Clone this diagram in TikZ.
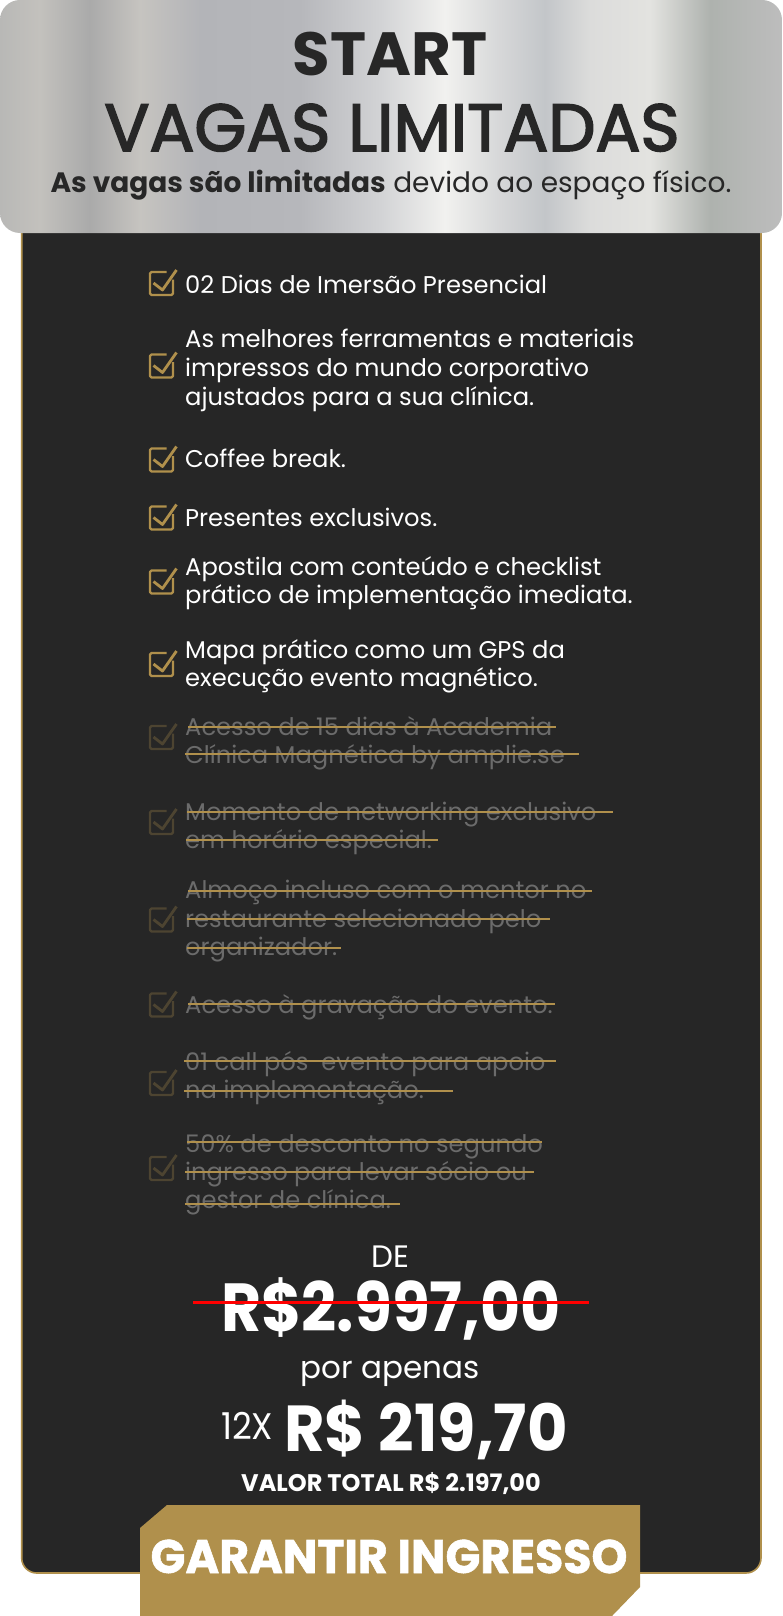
\documentclass[tikz,border=0pt]{standalone}
\usepackage{fontspec}
\usepackage{graphicx}
\setmainfont{Poppins}
\newfontfamily\popmed{Poppins}[FakeBold=2.5]
\definecolor{panel}{HTML}{262626}
\definecolor{gold}{HTML}{B0904C}
\definecolor{hdrtxt}{HTML}{272727}
\definecolor{offgray}{HTML}{6B6B6B}
\colorlet{dimgold}{gold!28!panel}
\definecolor{m0}{HTML}{B8B8B6}
\definecolor{m1}{HTML}{C3C1BD}
\definecolor{m2}{HTML}{AAAAAA}
\definecolor{m3}{HTML}{C6C4C0}
\definecolor{m4}{HTML}{B3B4B8}
\definecolor{m5}{HTML}{B6B7BB}
\definecolor{m6}{HTML}{D2D3D5}
\definecolor{m7}{HTML}{F1F1EF}
\definecolor{m8}{HTML}{D6D7D8}
\definecolor{m9}{HTML}{C3C6C9}
\definecolor{m10}{HTML}{DCDCDB}
\definecolor{m11}{HTML}{E3E3E0}
\definecolor{m12}{HTML}{AEB2AE}
\definecolor{m13}{HTML}{BDBDBD}
\pgfdeclarehorizontalshading{metal}{100bp}{color(0bp)=(m0); color(25bp)=(m0);
 color(27.56bp)=(m1); color(30.75bp)=(m2); color(33.95bp)=(m3); color(37.79bp)=(m4);
 color(44.18bp)=(m5); color(49.3bp)=(m6); color(53.45bp)=(m7); color(56.97bp)=(m8);
 color(59.85bp)=(m9); color(62.72bp)=(m10); color(66.56bp)=(m11); color(70.4bp)=(m12);
 color(75bp)=(m13); color(100bp)=(m13)}
\tikzset{
  item/.style={anchor=base west, inner sep=0pt, text=white, font=\fontsize{24.2}{29}\selectfont},
  offitem/.style={item, text=offgray},
  strike/.style={gold, line width=2pt},
  ckon/.pic={
    \draw[gold, line width=2.4pt, line join=round, rounded corners=1.5pt] (11.5,-4) -- (11.5,11.5) -- (-11.5,11.5) -- (-11.5,-11.5) -- (5,-11.5);
    \draw[gold, line width=2.8pt, line join=round] (-8,-0.5) -- (1,6.5) -- (15,-13.5);},
  ckoff/.pic={
    \draw[dimgold, line width=2.4pt, line join=round, rounded corners=1.5pt] (11.5,-4) -- (11.5,11.5) -- (-11.5,11.5) -- (-11.5,-11.5) -- (5,-11.5);
    \draw[dimgold, line width=2.8pt, line join=round] (-8,-0.5) -- (1,6.5) -- (15,-13.5);},
  hdr/.style={anchor=base, inner sep=0pt, text=hdrtxt},
  price/.style={anchor=base, inner sep=0pt, text=white}
}
\begin{document}
\begin{tikzpicture}[x=1pt,y=-1pt]
\useasboundingbox (0,0) rectangle (782,1616);
\fill[white] (0,0) rectangle (782,1616);
% panel
\draw[gold, line width=1.6pt, fill=panel, rounded corners=15pt] (21.7,200) rectangle (761,1573);
% header
\shade[shading=metal, rounded corners=20pt] (0,0) rectangle (782,233);
\node[hdr, font=\fontsize{61}{61}\selectfont\bfseries] (start) at (390,76) {START};
\node[hdr, font=\fontsize{66.7}{66}\selectfont\popmed] (vagas) at (392,151) {VAGAS LIMITADAS};
\node[hdr, font=\fontsize{28}{28}\selectfont] (sub) at (391,193) {\textbf{As vagas são limitadas} devido ao espaço físico.};
% active items
\pic at (161.5,283.5) {ckon};
\node[item] (t1) at (185,293) {02 Dias de Imersão Presencial};
\pic at (161.5,366) {ckon};
\node[item] (t2a) at (185,347) {As melhores ferramentas e materiais};
\node[item] (t2b) at (185,376.5) {impressos do mundo corporativo};
\node[item] (t2c) at (185,405.5) {ajustados para a sua clínica.};
\pic at (161.5,460) {ckon};
\node[item] (t3) at (185,467) {Coffee break.};
\pic at (161.5,518) {ckon};
\node[item] (t4) at (185,526) {Presentes exclusivos.};
\pic at (161.5,582) {ckon};
\node[item] (t5a) at (185,575.5) {Apostila com conteúdo e checklist};
\node[item] (t5b) at (185,603.5) {prático de implementação imediata.};
\pic at (161.5,664.5) {ckon};
\node[item] (t6a) at (185,658.5) {Mapa prático como um GPS da};
\node[item] (t6b) at (185,686.5) {execução evento magnético.};
% struck items
\pic at (161.5,737.5) {ckoff};
\node[offitem] (t7a) at (185,735) {Acesso de 15 dias à Academia};
\node[offitem] (t7b) at (185,763) {Clínica Magnética by amplie.se};
\draw[strike] (188,727) -- (556,727);
\draw[strike] (185,754) -- (579,754);
\pic at (161.5,822.5) {ckoff};
\node[offitem] (t8a) at (185,820) {Momento de networking exclusivo};
\node[offitem] (t8b) at (185,848) {em horário especial.};
\draw[strike] (187,812) -- (613,812);
\draw[strike] (186,840) -- (438,840);
\pic at (161.5,920) {ckoff};
\node[offitem] (t9a) at (185,898) {Almoço incluso com o mentor no};
\node[offitem] (t9b) at (185,927) {restaurante selecionado pelo};
\node[offitem] (t9c) at (185,955) {organizador.};
\draw[strike] (188,891) -- (592,891);
\draw[strike] (187,919) -- (550,919);
\draw[strike] (187,948) -- (341,948);
\pic at (161.5,1005) {ckoff};
\node[offitem] (t10) at (185,1013) {Acesso à gravação do evento.};
\draw[strike] (188,1004) -- (555,1004);
\pic at (161.5,1083.5) {ckoff};
\node[offitem] (t11a) at (185,1070) {01 call pós~ evento para apoio};
\node[offitem] (t11b) at (185,1098) {na implementação.};
\draw[strike] (184,1061) -- (556,1061);
\draw[strike] (184,1091) -- (453,1091);
\pic at (161.5,1168.5) {ckoff};
\node[offitem] (t12a) at (185,1152) {50\% de desconto no segundo};
\node[offitem] (t12b) at (185,1180) {ingresso para levar sócio ou};
\node[offitem] (t12c) at (185,1208) {gestor de clínica.};
\draw[strike] (187,1142) -- (542,1142);
\draw[strike] (185,1172) -- (534,1172);
\draw[strike] (185,1204) -- (400,1204);
% prices
\node[price, font=\fontsize{31}{31}\selectfont] (de) at (390,1267) {DE};
\node[price, font=\fontsize{68}{68}\selectfont\bfseries] (old) at (391,1331) {\scalebox{0.905}[1]{R\$2.997,00}};
\draw[red, line width=3pt] (193,1302) -- (589,1302);
\node[price, font=\fontsize{31}{31}\selectfont] (por) at (390,1378) {por apenas};
\node[price, anchor=base west, font=\fontsize{37}{37}\selectfont] (x12) at (221,1439) {\scalebox{0.93}[1]{12X}};
\node[price, anchor=base west, font=\fontsize{65}{65}\selectfont\bfseries] (new) at (284,1451) {\scalebox{0.957}[1]{R\$ 219,70}};
\node[price, font=\fontsize{24}{24}\selectfont\bfseries] (total) at (391,1491) {VALOR TOTAL R\$ 2.197,00};
% button
\fill[gold] (167,1505) -- (640,1505) -- (640,1587) -- (612,1616) -- (140,1616) -- (140,1528) -- cycle;
\node[price, font=\fontsize{47}{47}\selectfont\bfseries\addfontfeature{FakeBold=1.2}] (btn) at (389,1573) {\scalebox{0.975}[1]{GARANTIR INGRESSO}};
\end{tikzpicture}
\end{document}
